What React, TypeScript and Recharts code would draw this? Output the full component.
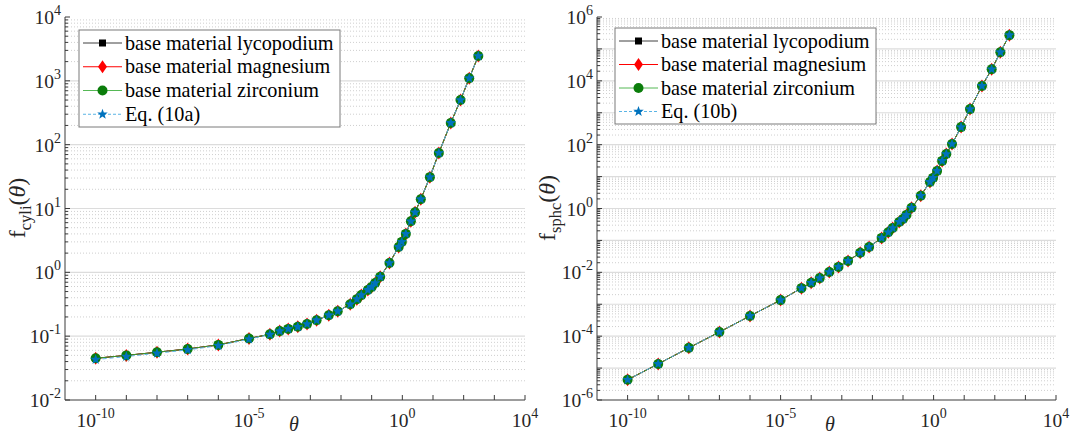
import React from "react";
import { Line, LineChart, ReferenceLine, XAxis, YAxis } from "recharts";

// theta sample points (shared by both panels)
const THETA = [
  1e-10, 1e-9, 1e-8, 1e-7, 1e-6, 1e-5, 4.8e-5, 1e-4, 1.9e-4, 3.9e-4, 7.8e-4, 1.6e-3,
  4e-3, 7.8e-3, 0.02, 0.033, 0.046, 0.075, 0.1, 0.13, 0.19, 0.38, 0.76, 0.96, 1.3,
  1.9, 2.6, 4, 7.9, 15.5, 38, 79, 152, 300,
];

// left panel, f_cyli(theta)
const CYLI_LYCO = [
  0.045, 0.05, 0.056, 0.063, 0.073, 0.092, 0.107, 0.12, 0.13, 0.14, 0.155, 0.178,
  0.213, 0.246, 0.316, 0.38, 0.44, 0.53, 0.59, 0.68, 0.85, 1.4, 2.5, 3.0, 4.0,
  6.3, 8.7, 14, 31, 74, 219, 500, 1100, 2450,
];
const CYLI_MAG = [...CYLI_LYCO];
const CYLI_ZIR = [...CYLI_LYCO];
const CYLI_EQ = [
  0.043, 0.048, 0.054, 0.061, 0.071, 0.09, 0.106, 0.12, 0.13, 0.14, 0.155, 0.178,
  0.213, 0.246, 0.316, 0.38, 0.44, 0.53, 0.59, 0.68, 0.85, 1.4, 2.5, 3.0, 4.0,
  6.3, 8.7, 14, 31, 74, 219, 500, 1100, 2450,
];

// right panel, f_sphc(theta)
const SPHC_LYCO = [
  4.3e-6, 1.35e-5, 4.3e-5, 1.35e-4, 4.3e-4, 1.35e-3, 3.2e-3, 4.7e-3, 6.6e-3, 0.0102,
  0.0148, 0.0228, 0.041, 0.062, 0.12, 0.18, 0.245, 0.38, 0.47, 0.63, 1.05, 2.5, 6.8,
  9.1, 15, 31, 51, 105, 355, 1300, 6900, 23000, 79000, 270000,
];
const SPHC_MAG = [...SPHC_LYCO];
const SPHC_ZIR = [...SPHC_LYCO];
const SPHC_EQ = [...SPHC_LYCO];

const X_EXPS = [-10, -9, -8, -7, -6, -5, -4, -3, -2, -1, 0, 1, 2, 3, 4];
const X_LABELED = [-10, -5, 0, 4];
const CYLI_EXPS = [-2, -1, 0, 1, 2, 3, 4];
const CYLI_LABELED = [-2, -1, 0, 1, 2, 3, 4];
const SPHC_EXPS = [-6, -5, -4, -3, -2, -1, 0, 1, 2, 3, 4, 5, 6];
const SPHC_LABELED = [-6, -4, -2, 0, 2, 4, 6];

const FONT = '"Liberation Serif", "Times New Roman", serif';
const AXIS = "#3a3a3a";
const TXT = "#262626";
const GRID_MAJOR = "#dcdcdc";
const GRID_MINOR = "#cfcfcf";

const C_LYCO = "#000000";
const C_MAG = "#ff0000";
const C_ZIR_LINE = "#2e9e2e";
const C_ZIR = "#0b7d0b";
const C_EQ_LINE = "#5ab4e5";
const C_EQ = "#0072bd";

const pow10 = (e: number) => Math.pow(10, e);
const expOf = (v: number) => Math.round(Math.log10(v));

function minorValues(exps: number[]) {
  const out: number[] = [];
  exps.slice(0, -1).forEach((e) => {
    for (let k = 2; k <= 9; k++) out.push(k * pow10(e));
  });
  return out;
}

function starPoints(cx: number, cy: number, ro: number, ri: number) {
  const pts: string[] = [];
  for (let i = 0; i < 10; i++) {
    const r = i % 2 === 0 ? ro : ri;
    const a = -Math.PI / 2 + (i * Math.PI) / 5;
    pts.push(`${cx + r * Math.cos(a)},${cy + r * Math.sin(a)}`);
  }
  return pts.join(" ");
}

const Square = ({ cx, cy }: any) => (
  <rect x={cx - 3.5} y={cy - 3.5} width={7} height={7} fill={C_LYCO} />
);
const Diamond = ({ cx, cy }: any) => (
  <polygon
    points={`${cx},${cy - 6.5} ${cx + 4.5},${cy} ${cx},${cy + 6.5} ${cx - 4.5},${cy}`}
    fill={C_MAG}
  />
);
const Dot = ({ cx, cy }: any) => <circle cx={cx} cy={cy} r={5} fill={C_ZIR} />;
const Star = ({ cx, cy }: any) => <polygon points={starPoints(cx, cy, 5.5, 2.3)} fill={C_EQ} />;

function Pow({ e, x, y, anchor }: { e: number; x: number; y: number; anchor: string }) {
  return (
    <text x={x} y={y} textAnchor={anchor} fontFamily={FONT} fontSize={19.5} fill={TXT}>
      10
      <tspan dy={-9} fontSize={14}>
        {e}
      </tspan>
    </text>
  );
}

const makeXTick = (side: "bottom" | "top") => (p: any) => {
  const e = expOf(p.payload.value);
  const dir = side === "bottom" ? -1 : 1;
  return (
    <g key={`${side}-${p.index}`}>
      <line x1={p.x} x2={p.x} y1={p.y} y2={p.y + dir * 5} stroke={AXIS} />
      {side === "bottom" && X_LABELED.includes(e) && (
        <Pow e={e} x={p.x} y={p.y + 27} anchor="middle" />
      )}
    </g>
  );
};

const makeYTick = (side: "left" | "right", labeled: number[]) => (p: any) => {
  const v = p.payload.value;
  const e = Math.log10(v);
  const major = Math.abs(e - Math.round(e)) < 1e-6;
  const len = major ? 5 : 3;
  const dir = side === "left" ? 1 : -1;
  return (
    <g key={`${side}-${p.index}`}>
      <line x1={p.x} x2={p.x + dir * len} y1={p.y} y2={p.y} stroke={AXIS} />
      {side === "left" && major && labeled.includes(Math.round(e)) && (
        <Pow e={Math.round(e)} x={p.x - 4} y={p.y + 7} anchor="end" />
      )}
    </g>
  );
};

function Panel({
  data,
  yExps,
  yLabeled,
  width,
  right,
}: {
  data: any[];
  yExps: number[];
  yLabeled: number[];
  width: number;
  right: number;
}) {
  const yMajor = yExps.map(pow10);
  const yMinor = minorValues(yExps);
  const yTicks = [...yMajor, ...yMinor].sort((a, b) => a - b);
  const xTicks = X_EXPS.map(pow10);
  const yDomain = [yMajor[0], yMajor[yMajor.length - 1]];
  return (
    <LineChart
      width={width}
      height={436}
      data={data}
      margin={{ top: 17, right, bottom: 0, left: 0 }}
    >
      {yMinor.map((v) => (
        <ReferenceLine key={`mn${v}`} y={v} stroke={GRID_MINOR} strokeDasharray="1 2" />
      ))}
      {yMajor.slice(1, -1).map((v) => (
        <ReferenceLine key={`mj${v}`} y={v} stroke={GRID_MAJOR} strokeWidth={1.2} />
      ))}
      <XAxis
        dataKey="theta"
        type="number"
        scale="log"
        domain={[1e-11, 1e4]}
        allowDataOverflow
        ticks={xTicks}
        interval={0}
        height={36}
        tickSize={0}
        tickMargin={0}
        tickLine={false}
        axisLine={{ stroke: AXIS }}
        tick={makeXTick("bottom")}
      />
      <XAxis
        xAxisId="top"
        orientation="top"
        dataKey="theta"
        type="number"
        scale="log"
        domain={[1e-11, 1e4]}
        allowDataOverflow
        ticks={xTicks}
        interval={0}
        height={0}
        tickSize={0}
        tickMargin={0}
        tickLine={false}
        axisLine={{ stroke: AXIS }}
        tick={makeXTick("top")}
      />
      <YAxis
        type="number"
        scale="log"
        domain={yDomain}
        allowDataOverflow
        ticks={yTicks}
        interval={0}
        width={65}
        tickSize={0}
        tickMargin={0}
        tickLine={false}
        axisLine={{ stroke: AXIS }}
        tick={makeYTick("left", yLabeled)}
      />
      <YAxis
        yAxisId="r"
        orientation="right"
        type="number"
        scale="log"
        domain={yDomain}
        allowDataOverflow
        ticks={yTicks}
        interval={0}
        width={0}
        tickSize={0}
        tickMargin={0}
        tickLine={false}
        axisLine={{ stroke: AXIS }}
        tick={makeYTick("right", yLabeled)}
      />
      <Line
        dataKey="lyco"
        stroke={C_LYCO}
        strokeWidth={1}
        dot={(p: any) => <Square key={`s${p.index}`} cx={p.cx} cy={p.cy} />}
        isAnimationActive={false}
      />
      <Line
        dataKey="mag"
        stroke={C_MAG}
        strokeWidth={1}
        dot={(p: any) => <Diamond key={`d${p.index}`} cx={p.cx} cy={p.cy} />}
        isAnimationActive={false}
      />
      <Line
        dataKey="zir"
        stroke={C_ZIR_LINE}
        strokeWidth={1}
        dot={(p: any) => <Dot key={`c${p.index}`} cx={p.cx} cy={p.cy} />}
        isAnimationActive={false}
      />
      <Line
        dataKey="eq"
        stroke={C_EQ_LINE}
        strokeWidth={1}
        strokeDasharray="4 3"
        dot={(p: any) => <Star key={`t${p.index}`} cx={p.cx} cy={p.cy} />}
        isAnimationActive={false}
      />
    </LineChart>
  );
}

function LegendBox({
  x,
  y,
  w,
  h,
  eqLabel,
}: {
  x: number;
  y: number;
  w: number;
  h: number;
  eqLabel: string;
}) {
  const rows = [
    { label: "base material lycopodium", line: "#404040", dash: undefined, M: Square },
    { label: "base material magnesium", line: C_MAG, dash: undefined, M: Diamond },
    { label: "base material zirconium", line: "#55b855", dash: undefined, M: Dot },
    { label: eqLabel, line: C_EQ_LINE, dash: "3 2", M: Star },
  ];
  const step = (h - 2) / 4;
  return (
    <g>
      <rect x={x} y={y} width={w} height={h} fill="#fff" stroke="#7a7a7a" strokeWidth={1} />
      {rows.map((r, i) => {
        const cy = y + 13 + i * step;
        const M = r.M;
        return (
          <g key={r.label}>
            <line x1={x + 4} x2={x + 43} y1={cy} y2={cy} stroke={r.line} strokeDasharray={r.dash} />
            <M cx={x + 23.5} cy={cy} />
            <text x={x + 46} y={cy + 6.5} fontFamily={FONT} fontSize={20.2} fill="#000">
              {r.label}
            </text>
          </g>
        );
      })}
    </g>
  );
}

function YTitle({ cx, cy, sub }: { cx: number; cy: number; sub: string }) {
  return (
    <text
      x={cx}
      y={cy}
      transform={`rotate(-90 ${cx} ${cy})`}
      textAnchor="middle"
      fontFamily={FONT}
      fontSize={24}
      fill={TXT}
    >
      f
      <tspan fontSize={16.5} dy={6}>
        {sub}
      </tspan>
      <tspan dy={-6}>(</tspan>
      <tspan fontStyle="italic">θ</tspan>)
    </text>
  );
}

export default function App() {
  const cyli = THETA.map((t, i) => ({
    theta: t,
    lyco: CYLI_LYCO[i],
    mag: CYLI_MAG[i],
    zir: CYLI_ZIR[i],
    eq: CYLI_EQ[i],
  }));
  const sphc = THETA.map((t, i) => ({
    theta: t,
    lyco: SPHC_LYCO[i],
    mag: SPHC_MAG[i],
    zir: SPHC_ZIR[i],
    eq: SPHC_EQ[i],
  }));
  return (
    <div
      style={{
        position: "absolute",
        left: 0,
        top: 0,
        width: 1079,
        height: 436,
        background: "#fff",
        overflow: "hidden",
      }}
    >
      <div style={{ position: "absolute", left: 0, top: 0 }}>
        <Panel data={cyli} yExps={CYLI_EXPS} yLabeled={CYLI_LABELED} width={540} right={15} />
      </div>
      <div style={{ position: "absolute", left: 532, top: 0 }}>
        <Panel data={sphc} yExps={SPHC_EXPS} yLabeled={SPHC_LABELED} width={547} right={23} />
      </div>
      <svg
        width={1079}
        height={436}
        style={{ position: "absolute", left: 0, top: 0, pointerEvents: "none" }}
      >
        <LegendBox x={79} y={30} w={261} h={97} eqLabel="Eq. (10a)" />
        <LegendBox x={615} y={28} w={261} h={96} eqLabel="Eq. (10b)" />
        <YTitle cx={25} cy={208} sub="cyli" />
        <YTitle cx={555} cy={208} sub="sphc" />
        <text x={294} y={431} textAnchor="middle" fontFamily={FONT} fontSize={20} fontStyle="italic" fill={TXT}>
          θ
        </text>
        <text x={830} y={431} textAnchor="middle" fontFamily={FONT} fontSize={20} fontStyle="italic" fill={TXT}>
          θ
        </text>
      </svg>
    </div>
  );
}
